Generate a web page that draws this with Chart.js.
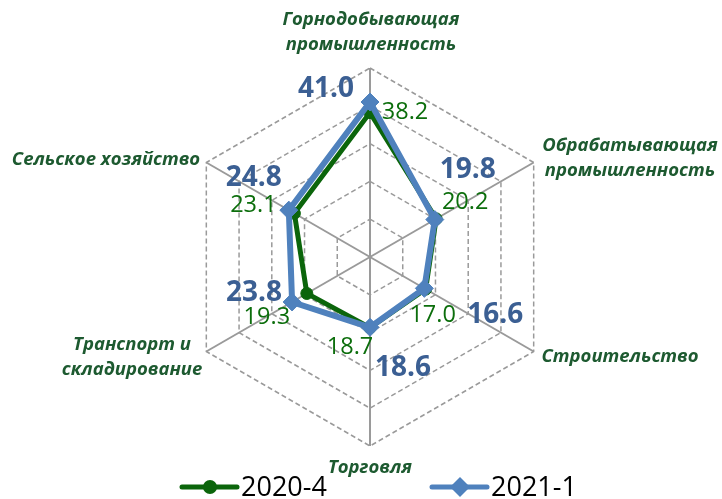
<!DOCTYPE html>
<html>
<head>
<meta charset="utf-8">
<script src="https://cdn.jsdelivr.net/npm/chart.js@4"></script>
<style>
  html, body { margin: 0; padding: 0; background: #fff; }
  #wrap { width: 722px; height: 499px; position: relative; }
</style>
</head>
<body>
<div id="wrap"><canvas id="radarChart"></canvas></div>
<script>
// Categories (clockwise from the top)
const categories = [
  ['Горнодобывающая', 'промышленность'],
  ['Обрабатывающая', 'промышленность'],
  ['Строительство'],
  ['Торговля'],
  ['Транспорт и', 'складирование'],
  ['Сельское хозяйство']
]
const seriesNames = ['2020-4', '2021-1']
const values2020q4 = [38.2, 20.2, 17.0, 18.7, 19.3, 23.1]
const values2021q1 = [41.0, 19.8, 16.6, 18.6, 23.8, 24.8]
const scaleMin = 0
const scaleMax = 50
const scaleStep = 10

// Label placement (pixel offsets from each point / category anchors)
const greenLabelOffsets = [[35, 0], [29, -17], [7, 26], [-20, 20], [-40, 24], [-41, -8]]
const blueLabelOffsets = [[-44, -13], [33, -50], [71, 27], [33, 41], [-38, -9], [-35, -32]]
const categoryAnchors = [[371, 20], [630, 146], [620, 357], [370, 468], [132, 345], [106, 160]]

const GREEN = '#0b650b'
const BLUE = '#4f81bd'
const CAT_COLOR = '#1d5a30'
const FONT = '"Open Sans", "DejaVu Sans", sans-serif'

// Draws value labels next to each point
const valueLabels = {
  id: 'valueLabels',
  afterDatasetsDraw(chart) {
    const ctx = chart.ctx
    chart.data.datasets.forEach((ds, di) => {
      const meta = chart.getDatasetMeta(di)
      const offsets = di === 0 ? greenLabelOffsets : blueLabelOffsets
      ctx.save()
      ctx.fillStyle = di === 0 ? '#0c6e0c' : '#3b5f93'
      ctx.font = di === 0 ? '23.5px ' + FONT : 'bold 28px ' + FONT
      ctx.textAlign = 'center'
      ctx.textBaseline = 'middle'
      meta.data.forEach((pt, i) => {
        const [dx, dy] = offsets[i]
        ctx.fillText(ds.data[i].toFixed(1), pt.x + dx, pt.y + dy)
      })
      ctx.restore()
    })
  }
}

// Category names around the web
const categoryLabels = {
  id: 'categoryLabels',
  afterDraw(chart) {
    const ctx = chart.ctx
    ctx.save()
    ctx.fillStyle = CAT_COLOR
    ctx.font = 'italic bold 18.5px ' + FONT
    ctx.textAlign = 'center'
    ctx.textBaseline = 'middle'
    chart.data.labels.forEach((lines, i) => {
      const [x, y] = categoryAnchors[i]
      lines.forEach((line, j) => ctx.fillText(line, x, y + j * 25))
    })
    ctx.restore()
  }
}

// Legend: line with marker, then series name
const lineLegend = {
  id: 'lineLegend',
  afterDraw(chart) {
    const ctx = chart.ctx
    const y = 487
    const starts = [182, 432]
    chart.data.datasets.forEach((ds, di) => {
      const x0 = starts[di]
      ctx.save()
      ctx.strokeStyle = ds.borderColor
      ctx.lineWidth = 5
      ctx.lineCap = 'round'
      ctx.beginPath()
      ctx.moveTo(x0, y)
      ctx.lineTo(x0 + 55, y)
      ctx.stroke()
      ctx.fillStyle = ds.borderColor
      ctx.beginPath()
      if (ds.pointStyle === 'rectRot') {
        const r = 10
        ctx.moveTo(x0 + 28, y - r)
        ctx.lineTo(x0 + 28 + r, y)
        ctx.lineTo(x0 + 28, y + r)
        ctx.lineTo(x0 + 28 - r, y)
        ctx.closePath()
      } else {
        ctx.arc(x0 + 28, y, 7, 0, Math.PI * 2)
      }
      ctx.fill()
      ctx.fillStyle = '#000'
      ctx.font = '27px ' + FONT
      ctx.textAlign = 'left'
      ctx.textBaseline = 'middle'
      ctx.fillText(ds.label, x0 + 59, y + 1)
      ctx.restore()
    })
  }
}

const ctx = document.getElementById('radarChart').getContext('2d')

new Chart(ctx, {
  type: 'radar',
  data: {
    labels: categories,
    datasets: [
      {
        label: seriesNames[0],
        data: values2020q4,
        borderColor: GREEN,
        backgroundColor: 'transparent',
        borderWidth: 5,
        pointStyle: 'circle',
        pointRadius: 6,
        pointBackgroundColor: GREEN,
        pointBorderColor: GREEN,
        pointBorderWidth: 1,
        fill: false,
        order: 1
      },
      {
        label: seriesNames[1],
        data: values2021q1,
        borderColor: BLUE,
        backgroundColor: 'transparent',
        borderWidth: 6,
        pointStyle: 'rectRot',
        pointRadius: 9,
        pointBackgroundColor: BLUE,
        pointBorderColor: BLUE,
        pointBorderWidth: 1,
        fill: false,
        order: 0
      }
    ]
  },
  options: {
    responsive: true,
    maintainAspectRatio: false,
    animation: false,
    layout: {
      padding: { left: 181, right: 163, top: 68, bottom: 53 }
    },
    plugins: {
      legend: { display: false },
      tooltip: { enabled: false }
    },
    elements: {
      line: { tension: 0 }
    },
    scales: {
      r: {
        min: scaleMin,
        max: scaleMax,
        startAngle: 0,
        ticks: { display: false, stepSize: scaleStep },
        pointLabels: { display: false },
        grid: { color: '#9a9a9a', lineWidth: 1.5 },
        border: { dash: [5, 3] },
        angleLines: { color: '#9a9a9a', lineWidth: 2 }
      }
    }
  },
  plugins: [valueLabels, categoryLabels, lineLegend]
})
</script>
</body>
</html>
